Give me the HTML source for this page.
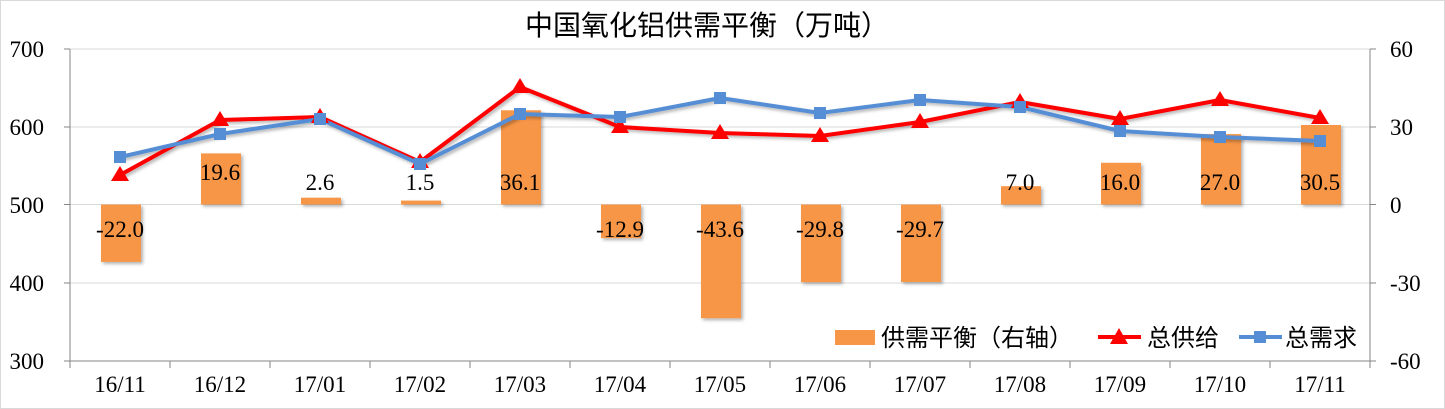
<!DOCTYPE html>
<html><head><meta charset="utf-8"><style>
html,body{margin:0;padding:0;background:#fff}
svg{display:block}
text{font-family:"Liberation Serif","Noto Serif CJK SC",serif;fill:#000}
.cjk{font-family:"Liberation Sans","Noto Sans CJK SC",sans-serif}
</style></head><body>
<svg width="1445" height="409" viewBox="0 0 1445 409" xmlns="http://www.w3.org/2000/svg">
<defs><filter id="sh" x="-20%" y="-20%" width="150%" height="150%"><feDropShadow dx="2" dy="2" stdDeviation="1.5" flood-color="#000" flood-opacity="0.3"/></filter></defs>
<rect x="0.5" y="0.5" width="1444" height="408" fill="#fff" stroke="#d9d9d9"/>
<text x="707" y="35" font-size="28" text-anchor="middle" class="cjk">中国氧化铝供需平衡（万吨）</text>
<g stroke="#d9d9d9" stroke-width="1">
<line x1="70" y1="49" x2="1370" y2="49"/><line x1="70" y1="127" x2="1370" y2="127"/><line x1="70" y1="204.5" x2="1370" y2="204.5"/><line x1="70" y1="283" x2="1370" y2="283"/>
</g>
<g stroke="#868686" stroke-width="1">
<line x1="70" y1="49" x2="70" y2="361"/><line x1="1370" y1="49" x2="1370" y2="361"/>
<line x1="70" y1="361" x2="1370" y2="361"/>
<line x1="64" y1="49" x2="70" y2="49"/><line x1="64" y1="127" x2="70" y2="127"/><line x1="64" y1="204.5" x2="70" y2="204.5"/><line x1="64" y1="283" x2="70" y2="283"/><line x1="64" y1="361" x2="70" y2="361"/>
<line x1="1370" y1="49" x2="1376" y2="49"/><line x1="1370" y1="127" x2="1376" y2="127"/><line x1="1370" y1="204.5" x2="1376" y2="204.5"/><line x1="1370" y1="283" x2="1376" y2="283"/><line x1="1370" y1="361" x2="1376" y2="361"/>
<line x1="170" y1="361" x2="170" y2="368"/><line x1="270" y1="361" x2="270" y2="368"/><line x1="370" y1="361" x2="370" y2="368"/><line x1="470" y1="361" x2="470" y2="368"/><line x1="570" y1="361" x2="570" y2="368"/><line x1="670" y1="361" x2="670" y2="368"/><line x1="770" y1="361" x2="770" y2="368"/><line x1="870" y1="361" x2="870" y2="368"/><line x1="970" y1="361" x2="970" y2="368"/><line x1="1070" y1="361" x2="1070" y2="368"/><line x1="1170" y1="361" x2="1170" y2="368"/><line x1="1270" y1="361" x2="1270" y2="368"/><line x1="70" y1="361" x2="70" y2="368"/><line x1="1370" y1="361" x2="1370" y2="368"/>
</g>
<g font-size="23" text-anchor="end">
<text x="44" y="57">700</text><text x="44" y="135">600</text><text x="44" y="213">500</text><text x="44" y="291">400</text><text x="44" y="369">300</text>
</g>
<g font-size="23" text-anchor="start">
<text x="1390" y="57">60</text><text x="1390" y="135">30</text><text x="1390" y="213">0</text><text x="1390" y="291">-30</text><text x="1390" y="369">-60</text>
</g>
<g font-size="23" text-anchor="middle">
<text x="120" y="392">16/11</text><text x="220" y="392">16/12</text><text x="320" y="392">17/01</text><text x="420" y="392">17/02</text><text x="520" y="392">17/03</text><text x="620" y="392">17/04</text><text x="720" y="392">17/05</text><text x="820" y="392">17/06</text><text x="920" y="392">17/07</text><text x="1020" y="392">17/08</text><text x="1120" y="392">17/09</text><text x="1220" y="392">17/10</text><text x="1320" y="392">17/11</text>
</g>
<g fill="#f79646" filter="url(#sh)">
<rect x="101" y="204.5" width="40" height="57.4"/>
<rect x="201" y="153.4" width="40" height="51.1"/>
<rect x="301" y="197.7" width="40" height="6.8"/>
<rect x="401" y="200.6" width="40" height="3.9"/>
<rect x="501" y="110.3" width="40" height="94.2"/>
<rect x="601" y="204.5" width="40" height="33.6"/>
<rect x="701" y="204.5" width="40" height="113.7"/>
<rect x="801" y="204.5" width="40" height="77.7"/>
<rect x="901" y="204.5" width="40" height="77.5"/>
<rect x="1001" y="186.2" width="40" height="18.3"/>
<rect x="1101" y="162.8" width="40" height="41.7"/>
<rect x="1201" y="134.1" width="40" height="70.4"/>
<rect x="1301" y="125" width="40" height="79.5"/>
</g>
<g fill="none" stroke-linejoin="round" filter="url(#sh)">
<polyline stroke="#ff0000" stroke-width="4" points="120,175 220,120 320,117 420,162 520,87 620,127 720,133 820,136 920,122 1020,102 1120,119 1220,100 1320,118"/>
<polyline stroke="#558ed5" stroke-width="4" points="120,157 220,134 320,119 420,164 520,114 620,117 720,98 820,113 920,100 1020,107 1120,131 1220,137 1320,141"/>
</g>
<g fill="#ff0000">
<polygon points="120,166 111,181 129,181"/><polygon points="220,111 211,126 229,126"/><polygon points="320,108 311,123 329,123"/><polygon points="420,153 411,168 429,168"/><polygon points="520,78 511,93 529,93"/><polygon points="620,118 611,133 629,133"/><polygon points="720,124 711,139 729,139"/><polygon points="820,127 811,142 829,142"/><polygon points="920,113 911,128 929,128"/><polygon points="1020,93 1011,108 1029,108"/><polygon points="1120,110 1111,125 1129,125"/><polygon points="1220,91 1211,106 1229,106"/><polygon points="1320,109 1311,124 1329,124"/>
</g>
<g fill="#558ed5">
<rect x="114" y="151" width="12" height="12"/><rect x="214" y="128" width="12" height="12"/><rect x="314" y="113" width="12" height="12"/><rect x="414" y="158" width="12" height="12"/><rect x="514" y="108" width="12" height="12"/><rect x="614" y="111" width="12" height="12"/><rect x="714" y="92" width="12" height="12"/><rect x="814" y="107" width="12" height="12"/><rect x="914" y="94" width="12" height="12"/><rect x="1014" y="101" width="12" height="12"/><rect x="1114" y="125" width="12" height="12"/><rect x="1214" y="131" width="12" height="12"/><rect x="1314" y="135" width="12" height="12"/>
</g>
<g font-size="23" text-anchor="middle">
<text x="120" y="237">-22.0</text><text x="220" y="180">19.6</text><text x="320" y="190">2.6</text><text x="420" y="190">1.5</text><text x="520" y="190">36.1</text><text x="620" y="237">-12.9</text><text x="720" y="237">-43.6</text><text x="820" y="237">-29.8</text><text x="920" y="237">-29.7</text><text x="1020" y="190">7.0</text><text x="1120" y="190">16.0</text><text x="1220" y="190">27.0</text><text x="1320" y="190">30.5</text>
</g>
<rect x="835" y="330" width="40" height="15" fill="#f79646"/>
<text x="881" y="346" font-size="24" class="cjk">供需平衡（右轴）</text>
<line x1="1098" y1="337" x2="1141" y2="337" stroke="#ff0000" stroke-width="4"/>
<polygon points="1119,328 1110,344 1128,344" fill="#ff0000"/>
<text x="1147" y="346" font-size="24" class="cjk">总供给</text>
<line x1="1239" y1="337" x2="1282" y2="337" stroke="#558ed5" stroke-width="4"/>
<rect x="1254" y="331" width="12" height="12" fill="#558ed5"/>
<text x="1285" y="346" font-size="24" class="cjk">总需求</text>
</svg>
</body></html>
